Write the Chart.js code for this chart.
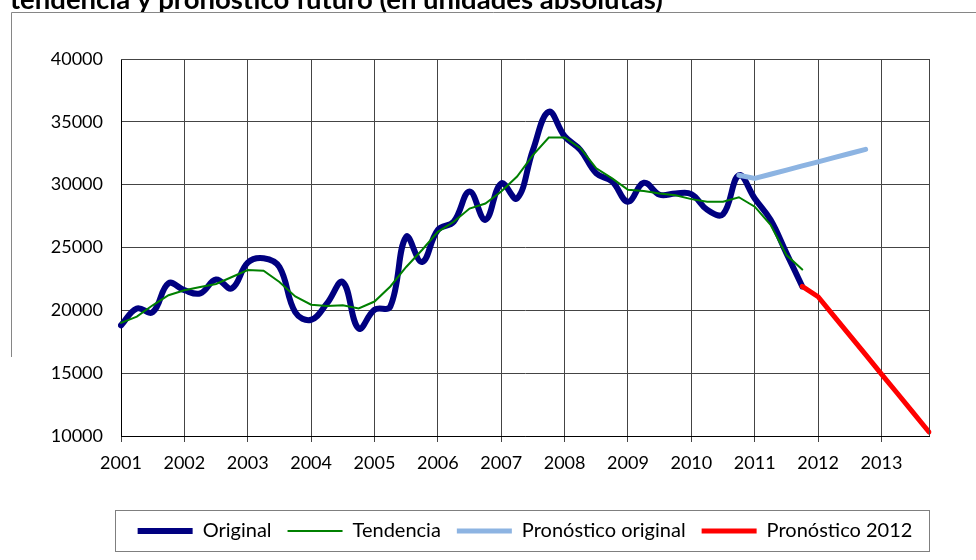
<!DOCTYPE html>
<html>
<head>
<meta charset="utf-8">
<script src="https://cdn.jsdelivr.net/npm/chart.js@4/dist/chart.umd.min.js"></script>
<style>
  html, body { margin: 0; padding: 0; background: #fff; }
  #wrap { width: 976px; height: 560px; position: relative; }
</style>
</head>
<body>
<div id="wrap"><canvas id="chart" width="976" height="560"></canvas></div>
<script>
  // Periodos trimestrales 2001 T1 .. 2013 T4
  const years = [2001, 2002, 2003, 2004, 2005, 2006, 2007, 2008, 2009, 2010, 2011, 2012, 2013];
  const quarters = ['T1', 'T2', 'T3', 'T4'];
  const periods = [];
  years.forEach(y => quarters.forEach(q => periods.push(y + ' ' + q)));

  // Serie original (2001 T1 .. 2011 T4)
  const original = [
    18800, 20150, 19850, 22150, 21600, 21350, 22450, 21750,
    23800, 24150, 23450, 19850, 19250, 20550, 22250, 18550,
    20050, 20300, 25850, 23850, 26400, 27050, 29450, 27200,
    30100, 28900, 32750, 35800, 33850, 32750, 30900, 30250,
    28650, 30150, 29200, 29300, 29250, 28000, 27650, 30750,
    28900, 27200, 24550, 21900
  ];

  // Tendencia (2001 T1 .. 2011 T4)
  const tendencia = [
    19000, 19500, 20400, 21200, 21600, 21850, 22100, 22650,
    23200, 23150, 22250, 21100, 20450, 20350, 20400, 20150,
    20700, 21900, 23450, 24800, 26250, 27050, 28100, 28500,
    29450, 30650, 32350, 33750, 33750, 32900, 31300, 30500,
    29600, 29500, 29300, 29150, 28850, 28650, 28650, 29000,
    28250, 26800, 24400, 23250
  ];

  // Pronóstico original (2010 T4 .. 2012 T4)
  const pronOriginalStart = 39;
  const pronOriginal = [30750, 30500, 30830, 31160, 31490, 31820, 32150, 32480, 32810];

  // Pronóstico 2012 (2011 T4 .. 2013 T4)
  const pron2012Start = 43;
  const pron2012 = [21900, 21080, 19540, 18010, 16470, 14930, 13400, 11860, 10320];

  const yTicks = [10000, 15000, 20000, 25000, 30000, 35000, 40000];

  const pad = (start, arr) => Array(start).fill(null).concat(arr);

  const FONT = 'Lato, "Open Sans", sans-serif';
  const gridColor = '#444';

  // Marco, título recortado y borde del área de trazado / leyenda
  const decorations = {
    id: 'decorations',
    beforeDraw(chart) {
      const ctx = chart.ctx;
      ctx.save();
      ctx.fillStyle = '#000';
      ctx.font = 'bold 27.5px ' + FONT;
      ctx.textBaseline = 'alphabetic';
      ctx.textAlign = 'left';
      ctx.fillText('tendencia y pronóstico futuro (en unidades absolutas)', 10, 9);
      ctx.strokeStyle = '#868686';
      ctx.lineWidth = 1;
      ctx.beginPath();
      ctx.moveTo(11.5, 357);
      ctx.lineTo(11.5, 12.5);
      ctx.lineTo(976, 12.5);
      ctx.stroke();
      ctx.restore();
    },
    afterDraw(chart) {
      const ctx = chart.ctx;
      const a = chart.chartArea;
      ctx.save();
      ctx.strokeStyle = gridColor;
      ctx.lineWidth = 1;
      ctx.beginPath();
      ctx.moveTo(Math.round(a.right) + 0.5, Math.round(a.top) + 0.5);
      ctx.lineTo(Math.round(a.right) + 0.5, Math.round(a.bottom));
      ctx.moveTo(Math.round(a.left), Math.round(a.top) + 0.5);
      ctx.lineTo(Math.round(a.right) + 1, Math.round(a.top) + 0.5);
      ctx.stroke();
      const hb = chart.legend.legendHitBoxes;
      if (hb && hb.length) {
        const cy = hb[0].top + hb[0].height / 2;
        ctx.strokeStyle = '#7f7f7f';
        ctx.strokeRect(Math.round(a.left) - 5.5, Math.round(cy) - 20.5, Math.round(a.right - a.left) + 6, 41);
      }
      ctx.restore();
    }
  };

  new Chart(document.getElementById('chart'), {
    type: 'line',
    data: {
      labels: periods,
      datasets: [
        {
          label: 'Original',
          data: original,
          borderColor: '#000080',
          backgroundColor: '#000080',
          borderWidth: 6,
          tension: 0.4,
          borderCapStyle: 'round',
          borderJoinStyle: 'round',
          pointRadius: 0,
          order: 4
        },
        {
          label: 'Tendencia',
          data: tendencia,
          borderColor: '#008000',
          backgroundColor: '#008000',
          borderWidth: 2,
          tension: 0,
          borderCapStyle: 'round',
          pointRadius: 0,
          order: 3
        },
        {
          label: 'Pronóstico original',
          data: pad(pronOriginalStart, pronOriginal),
          borderColor: '#8DB4E2',
          backgroundColor: '#8DB4E2',
          borderWidth: 5,
          tension: 0,
          borderCapStyle: 'round',
          borderJoinStyle: 'round',
          pointRadius: 0,
          order: 2
        },
        {
          label: 'Pronóstico 2012',
          data: pad(pron2012Start, pron2012),
          borderColor: '#FF0000',
          backgroundColor: '#FF0000',
          borderWidth: 5,
          tension: 0,
          borderCapStyle: 'round',
          borderJoinStyle: 'round',
          pointRadius: 0,
          order: 1
        }
      ]
    },
    options: {
      responsive: false,
      animation: false,
      events: [],
      layout: { padding: { left: 0, right: 47, top: 59, bottom: 9 } },
      scales: {
        x: {
          type: 'category',
          offset: false,
          afterFit: s => { s.height = 69; },
          grid: {
            color: ctx => (ctx.index % 4 === 0 ? gridColor : 'rgba(0,0,0,0)'),
            tickLength: 6,
            lineWidth: 1
          },
          border: { color: '#000', width: 1 },
          ticks: {
            autoSkip: false,
            maxRotation: 0,
            color: '#000',
            padding: 10,
            font: { family: FONT, size: 18 },
            callback: function (v, i) { return i % 4 === 0 ? years[i / 4] : ''; }
          }
        },
        y: {
          min: 10000,
          max: 40000,
          afterFit: s => { s.width = 121; },
          afterBuildTicks: s => { s.ticks = yTicks.map(v => ({ value: v })); },
          grid: { color: gridColor, drawTicks: false, lineWidth: 1 },
          border: { color: '#000', width: 1 },
          ticks: {
            color: '#000',
            padding: 18,
            font: { family: FONT, size: 18 },
            callback: v => String(v)
          }
        }
      },
      plugins: {
        title: { display: false },
        tooltip: { enabled: false },
        legend: {
          position: 'bottom',
          fullSize: false,
          labels: {
            usePointStyle: true,
            pointStyle: 'line',
            boxHeight: 10,
            pointStyleWidth: 55,
            padding: 16,
            color: '#000',
            font: { family: FONT, size: 20 },
            sort: (a, b) => a.datasetIndex - b.datasetIndex
          }
        }
      }
    },
    plugins: [decorations]
  });
</script>
</body>
</html>
